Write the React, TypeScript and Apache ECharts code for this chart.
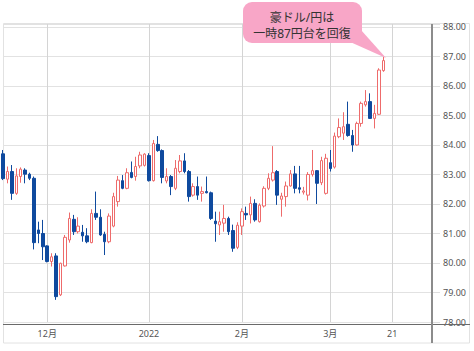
import React, { useEffect, useRef } from "react";
import * as echarts from "echarts";

// weekday categories, 2021/11/17 .. 2022/04/01
const dates = [
  "2021/11/17", "2021/11/18", "2021/11/19", "2021/11/22", "2021/11/23", "2021/11/24", "2021/11/25", "2021/11/26", "2021/11/29", "2021/11/30",
  "2021/12/01", "2021/12/02", "2021/12/03", "2021/12/06", "2021/12/07", "2021/12/08", "2021/12/09", "2021/12/10", "2021/12/13", "2021/12/14",
  "2021/12/15", "2021/12/16", "2021/12/17", "2021/12/20", "2021/12/21", "2021/12/22", "2021/12/23", "2021/12/24", "2021/12/27", "2021/12/28",
  "2021/12/29", "2021/12/30", "2021/12/31",
  "2022/01/03", "2022/01/04", "2022/01/05", "2022/01/06", "2022/01/07", "2022/01/10", "2022/01/11", "2022/01/12", "2022/01/13", "2022/01/14",
  "2022/01/17", "2022/01/18", "2022/01/19", "2022/01/20", "2022/01/21", "2022/01/24", "2022/01/25", "2022/01/26", "2022/01/27", "2022/01/28",
  "2022/01/31",
  "2022/02/01", "2022/02/02", "2022/02/03", "2022/02/04", "2022/02/07", "2022/02/08", "2022/02/09", "2022/02/10", "2022/02/11", "2022/02/14",
  "2022/02/15", "2022/02/16", "2022/02/17", "2022/02/18", "2022/02/21", "2022/02/22", "2022/02/23", "2022/02/24", "2022/02/25", "2022/02/28",
  "2022/03/01", "2022/03/02", "2022/03/03", "2022/03/04", "2022/03/07", "2022/03/08", "2022/03/09", "2022/03/10", "2022/03/11", "2022/03/14",
  "2022/03/15", "2022/03/16", "2022/03/17", "2022/03/18", "2022/03/21", "2022/03/22", "2022/03/23", "2022/03/24", "2022/03/25", "2022/03/28",
  "2022/03/29", "2022/03/30", "2022/03/31", "2022/04/01",
];

const opens = [
  83.70, 82.84, 83.10, 82.36, 82.93, 83.15, 83.01, 82.87, 81.12, 81.00,
  80.58, 80.05, 80.24, 78.92, 79.90, 80.78, 81.48, 81.06, 81.04, 80.92,
  80.69, 81.68, 81.55, 80.97, 80.72, 81.25, 82.08, 82.79, 82.53, 83.07,
  82.93, 83.29, 83.31, 83.64, 82.79, 84.02, 83.81, 82.78, 82.93, 82.53,
  83.10, 83.46, 83.10, 82.30, 82.59, 82.36, 82.42, 82.38, 81.42, 81.29,
  81.35, 81.51, 81.10, 80.53, 81.25, 81.68, 81.63, 82.02, 81.40, 81.93,
  82.53, 82.81, 83.10, 82.16, 82.25, 82.61, 83.02, 82.55, 82.40, 82.30,
  83.00, 83.13, 82.72, 82.36, 83.40, 83.25, 84.28, 84.40, 84.70, 84.32,
  84.00, 84.73, 85.36, 85.47, 84.90, 85.04, 86.52,
];
const closes = [
  82.86, 83.10, 82.36, 82.95, 83.18, 83.01, 82.87, 80.69, 81.00, 80.55,
  80.05, 80.21, 78.86, 79.99, 80.87, 81.51, 81.06, 81.25, 80.92, 80.72,
  81.68, 81.55, 80.95, 80.72, 81.59, 82.25, 82.81, 82.53, 83.06, 82.90,
  83.27, 83.66, 83.69, 82.79, 84.05, 83.81, 82.90, 82.93, 82.59, 83.21,
  83.46, 83.10, 82.25, 82.59, 82.30, 82.42, 82.38, 81.51, 81.33, 81.40,
  81.51, 81.06, 80.50, 81.28, 81.74, 81.63, 82.02, 81.46, 81.96, 82.53,
  82.87, 83.06, 82.30, 82.27, 82.61, 83.02, 82.53, 82.50, 82.44, 83.00,
  83.13, 82.70, 83.47, 83.55, 83.20, 84.30, 84.59, 84.62, 84.32, 84.00,
  84.73, 85.41, 85.47, 84.90, 85.07, 86.54, 86.86,
];
const lows = [
  82.81, 82.70, 82.14, 82.31, 82.72, 82.70, 82.81, 80.46, 80.67, 80.10,
  80.02, 79.88, 78.75, 78.88, 79.88, 80.69, 80.95, 81.00, 80.72, 80.67,
  80.67, 81.46, 80.92, 80.27, 80.67, 81.21, 81.91, 82.50, 82.50, 82.87,
  82.79, 83.21, 83.27, 82.76, 82.76, 83.77, 82.70, 82.70, 82.30, 82.47,
  83.04, 83.04, 82.08, 82.25, 82.14, 82.08, 82.36, 81.46, 80.72, 80.95,
  81.06, 80.95, 80.38, 80.47, 80.95, 81.46, 81.34, 81.40, 81.37, 81.88,
  82.47, 82.76, 81.97, 81.57, 81.91, 82.59, 82.36, 82.36, 82.32, 82.12,
  82.93, 82.00, 82.64, 82.32, 83.10, 83.20, 84.23, 84.17, 84.28, 83.77,
  83.98, 84.62, 85.30, 84.88, 84.56, 85.02, 86.48,
];
const highs = [
  83.83, 83.27, 83.32, 83.21, 83.24, 83.21, 83.06, 82.93, 81.40, 81.46,
  80.60, 80.33, 80.33, 80.01, 80.95, 81.71, 81.63, 81.55, 81.29, 81.18,
  81.82, 82.42, 81.82, 81.06, 81.68, 82.38, 82.95, 82.98, 83.21, 83.44,
  83.60, 83.77, 83.72, 83.72, 84.17, 84.30, 83.85, 83.21, 82.98, 83.49,
  83.66, 83.72, 83.15, 82.70, 82.93, 82.59, 82.93, 82.42, 81.74, 81.74,
  81.97, 81.57, 81.30, 81.38, 81.85, 81.91, 82.25, 82.16, 82.02, 82.60,
  83.04, 83.96, 83.15, 82.38, 82.76, 83.15, 83.29, 83.29, 82.58, 83.08,
  83.83, 83.15, 83.60, 83.70, 83.83, 84.42, 84.90, 85.11, 85.47, 84.51,
  84.79, 85.47, 85.86, 85.75, 85.36, 86.60, 87.00,
];

const tickDates = ["2021/12/01", "2022/01/03", "2022/02/01", "2022/03/01", "2022/03/21"];
const tickLabels = ["12月", "2022", "2月", "3月", "21"];

const yMin = 78;
const yMax = 88.1;
const yStep = 1;

const calloutLines = ["豪ドル/円は", "一時87円台を回復"];

const FONT = "'Noto Sans', 'Noto Sans CJK JP', sans-serif";

export default function App() {
  const ref = useRef<HTMLDivElement>(null);

  useEffect(() => {
    if (!ref.current) return;
    const chart = echarts.init(ref.current, null, { renderer: "svg" });
    const data = opens.map((o, i) => [o, closes[i], lows[i], highs[i]]);
    const isTick = (_i: number, v: string) => tickDates.includes(v);

    chart.setOption({
      animation: false,
      backgroundColor: "#ffffff",
      grid: { left: 3, right: 42, top: 24, bottom: 29 },
      xAxis: {
        type: "category",
        data: dates,
        boundaryGap: false,
        axisLine: { show: false },
        axisTick: { show: false },
        axisLabel: {
          interval: isTick,
          formatter: (v: string) => {
            const k = tickDates.indexOf(v);
            return k >= 0 ? tickLabels[k] : "";
          },
          margin: 7,
          color: "#555",
          fontSize: 9,
          fontFamily: FONT,
        },
        splitLine: { show: true, interval: isTick, lineStyle: { color: "#d4d4d4", width: 1 } },
      },
      yAxis: {
        type: "value",
        position: "right",
        min: yMin,
        max: yMax,
        interval: yStep,
        axisLine: { show: false },
        axisTick: { show: true, length: 8, lineStyle: { color: "#dedede" } },
        axisLabel: {
          margin: 11,
          color: "#555",
          fontSize: 9,
          fontFamily: FONT,
          formatter: (v: number) => (Math.abs(v - Math.round(v)) < 1e-6 ? v.toFixed(2) : ""),
        },
        splitLine: { show: true, lineStyle: { color: "#e2e2e2", width: 1 } },
      },
      series: [
        {
          type: "candlestick",
          data,
          barWidth: 3,
          clip: true,
          itemStyle: {
            color: "#ffffff",
            color0: "#0f4a9e",
            borderColor: "#ee6b6b",
            borderColor0: "#0f4a9e",
            borderWidth: 1,
          },
        },
      ],
      graphic: [
        {
          type: "rect",
          silent: true,
          z: 0,
          shape: { x: 3.5, y: 23.5, width: 466, height: 319.5 },
          style: { fill: "none", stroke: "#e2e2e2", lineWidth: 1 },
        },
        {
          type: "line",
          silent: true,
          z: 50,
          shape: { x1: 3, y1: 324.5, x2: 470, y2: 324.5 },
          style: { stroke: "#6a6a6a", lineWidth: 1 },
        },
        {
          type: "line",
          silent: true,
          z: 50,
          shape: { x1: 432, y1: 24, x2: 432, y2: 343 },
          style: { stroke: "#8c8c8c", lineWidth: 2 },
        },
        {
          type: "polygon",
          silent: true,
          z: 100,
          shape: { points: [[348, 41], [361, 30], [386, 58]] },
          style: { fill: "#f8a6c7" },
        },
        {
          type: "rect",
          silent: true,
          z: 101,
          shape: { x: 243, y: 2, width: 119, height: 41, r: 9 },
          style: { fill: "#f8a6c7" },
        },
        {
          type: "text",
          silent: true,
          z: 102,
          style: {
            x: 302,
            y: 17,
            text: calloutLines[0],
            fill: "#333",
            font: `12px ${FONT}`,
            textAlign: "center",
            textVerticalAlign: "middle",
          },
        },
        {
          type: "text",
          silent: true,
          z: 102,
          style: {
            x: 302,
            y: 33,
            text: calloutLines[1],
            fill: "#333",
            font: `12px ${FONT}`,
            textAlign: "center",
            textVerticalAlign: "middle",
          },
        },
      ],
    });
    return () => chart.dispose();
  }, []);

  return (
    <div
      ref={ref}
      style={{ position: "absolute", left: 0, top: 0, width: 474, height: 351 }}
    />
  );
}
